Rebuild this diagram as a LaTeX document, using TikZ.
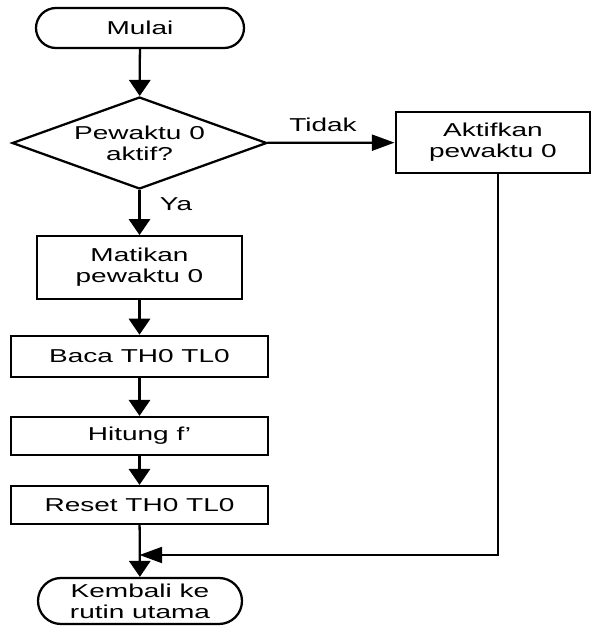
\documentclass[tikz,border=0pt]{standalone}
\usepackage{fontspec}
\setmainfont{Liberation Sans}[FakeStretch=1.5]
\usetikzlibrary{shapes.geometric,shapes.misc,arrows.meta}

\begin{document}
\begin{tikzpicture}[x=0.75pt,y=0.75pt,yscale=-1,xscale=1,
  every node/.style={font=\fontsize{14pt}{15.5pt}\selectfont, align=center},
  line width=1.7pt,
  terminal/.style={draw, rounded rectangle, inner sep=0pt},
  process/.style={draw, rectangle, inner sep=0pt},
  decision/.style={draw, diamond, aspect=2.77, inner sep=0pt},
  vflow/.style={-{Triangle[length=12pt,width=16pt]}},
  hflow/.style={-{Triangle[length=17pt,width=12pt]}}]
\useasboundingbox (0,0) rectangle (592,626);

% Terminals
\node[terminal, minimum width=156pt, minimum height=30pt] (mulai) at (140,28) {Mulai};
\node[terminal, minimum width=153pt, minimum height=34.5pt] (kembali) at (140,601) {Kembali ke\\rutin utama};

% Decision
\node[decision, minimum width=191pt, minimum height=69pt] (aktif) at (139.5,143) {Pewaktu 0\\aktif?};

% Processes
\node[process, minimum width=146pt, minimum height=46pt] (aktifkan) at (493,142.5) {Aktifkan\\pewaktu 0};
\node[process, minimum width=154pt, minimum height=47pt] (matikan) at (139.5,267.5) {Matikan\\pewaktu 0};
\node[process, minimum width=193pt, minimum height=31pt] (baca) at (139.5,356.5) {Baca TH0 TL0};
\node[process, minimum width=193pt, minimum height=28.5pt] (hitung) at (139.5,436) {Hitung f’};
\node[process, minimum width=193pt, minimum height=28.5pt] (reset) at (139.5,505) {Reset TH0 TL0};

\coordinate (gabung) at (139.5,555);
\coordinate (belok) at (498,555);

% Connectors
\draw[vflow] (mulai) -- (aktif);
\draw[vflow] (aktif) -- (matikan);
\draw[hflow] (aktif) -- (aktifkan);
\draw[vflow] (matikan) -- (baca);
\draw[vflow] (baca) -- (hitung);
\draw[vflow] (hitung) -- (reset);
\draw[vflow] (reset) -- (kembali);
\draw[hflow] (aktifkan.south -| belok) -- (belok) -- (gabung);

% Text Node
\node (ya) at (176,204) {Ya};
% Text Node
\node (tidak) at (323,125) {Tidak};

\end{tikzpicture}
\end{document}
